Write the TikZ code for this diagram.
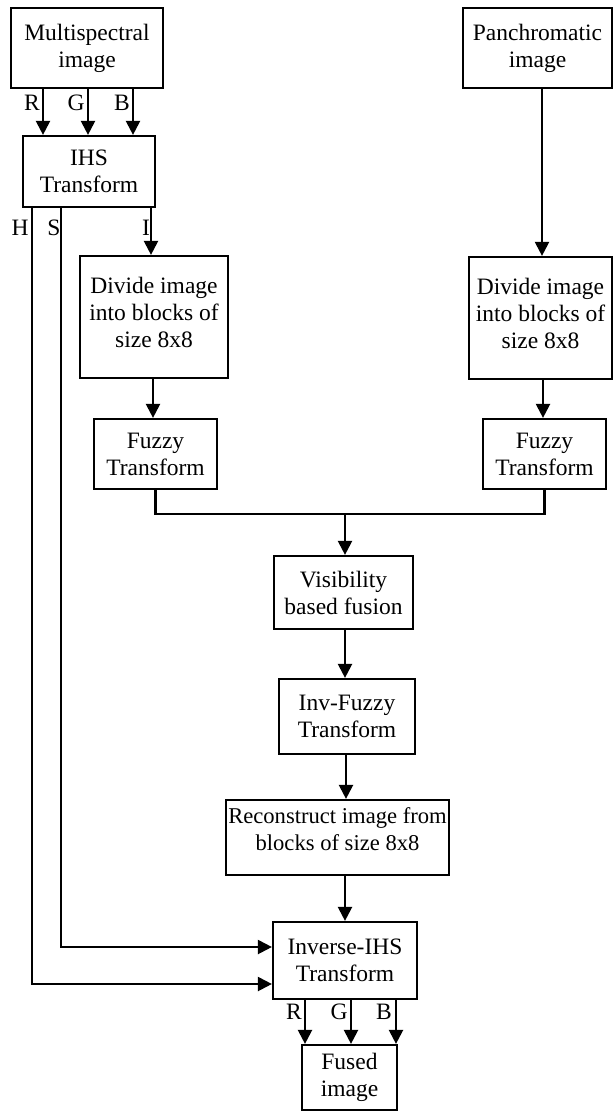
\documentclass[tikz,border=0pt]{standalone}
\usepackage{fontspec}
\setmainfont{Liberation Serif}
\usetikzlibrary{arrows.meta}
\begin{document}
\begin{tikzpicture}[x=1pt,y=-1pt,
  every node/.style={font=\fontsize{23.5}{27}\selectfont},
  blk/.style={draw,line width=2.2pt,inner sep=0pt,align=center},
  lbl/.style={inner sep=0pt},
  con/.style={line width=2.2pt},
  arr/.style={con,-{Triangle[width=14pt,length=14pt]}}]
\useasboundingbox (0,0) rectangle (613,1116);
% boxes
\node[blk,minimum width=152pt,minimum height=80pt] (ms) at (87,48) {Multispectral\\image};
\node[blk,minimum width=149pt,minimum height=80pt] (pan) at (537.5,48) {Panchromatic\\image};
\node[blk,minimum width=132pt,minimum height=71pt] (ihs) at (89,171.5) {IHS\\Transform};
\node[blk,minimum width=148pt,minimum height=122pt] (divL) at (154,317) {Divide image\\into blocks of\\size 8x8\\[-17pt]};
\node[blk,minimum width=143pt,minimum height=122pt] (divR) at (540.5,318) {Divide image\\into blocks of\\size 8x8\\[-17pt]};
\node[blk,minimum width=123pt,minimum height=70pt] (fzL) at (155.5,454) {Fuzzy\\Transform};
\node[blk,minimum width=123pt,minimum height=70pt] (fzR) at (544.5,454) {Fuzzy\\Transform};
\node[blk,minimum width=139pt,minimum height=73pt] (vis) at (343.5,592.5) {Visibility\\based fusion};
\node[blk,minimum width=136pt,minimum height=75pt] (inv) at (347,716.5) {Inv-Fuzzy\\Transform};
\node[blk,minimum width=223pt,minimum height=75pt,font=\fontsize{22.6}{27}\selectfont] (rec) at (337.5,837.5) {Reconstruct image from\\blocks of size 8x8\\[-11pt]};
\node[blk,minimum width=144pt,minimum height=77pt] (iihs) at (345,960.5) {Inverse-IHS\\Transform};
\node[blk,minimum width=95pt,minimum height=65pt] (fused) at (349.5,1077.5) {Fused\\image};
% labels
\node[lbl] (lR) at (32,103) {R};
\node[lbl] (lG) at (76,103) {G};
\node[lbl] (lB) at (122,103) {B};
\node[lbl] (lH) at (20,228) {H};
\node[lbl] (lS) at (54,228) {S};
\node[lbl] (lI) at (146,228) {I};
\node[lbl] (oR) at (294,1012) {R};
\node[lbl] (oG) at (339,1012) {G};
\node[lbl] (oB) at (384,1012) {B};
% connectors
\draw[arr] ([xshift=-44pt]ms.south) -- ([xshift=-46pt]ihs.north);
\draw[arr] ([xshift=1pt]ms.south) -- ([xshift=-1pt]ihs.north);
\draw[arr] ([xshift=46pt]ms.south) -- ([xshift=44pt]ihs.north);
\path ([xshift=62pt]ihs.south) coordinate (iout);
\draw[arr] (iout) -- (iout |- divL.north);
\draw[arr] ([xshift=-57pt]ihs.south) |- ([yshift=-23.5pt]iihs.west);
\draw[arr] ([xshift=-28pt]ihs.south) |- ([yshift=13.5pt]iihs.west);
\path ([xshift=4.5pt]pan.south) coordinate (pout);
\draw[arr] (pout) -- (pout |- divR.north);
\draw[arr] (divL.south -| 153,0) -- (fzL.north -| 153,0);
\draw[arr] (divR.south -| 543,0) -- (fzR.north -| 543,0);
\coordinate (jn) at (345,514);
\draw[con] (fzL.south) |- (jn) -| (fzR.south);
\draw[arr] (jn) -- (jn |- vis.north);
\draw[arr] (vis.south -| 345,0) -- (inv.north -| 345,0);
\draw[arr] (inv.south -| 346,0) -- (rec.north -| 346,0);
\draw[arr] (rec.south -| iihs.north) -- (iihs.north);
\draw[arr] ([xshift=-40pt]iihs.south) -- ([xshift=-40pt]iihs.south |- fused.north);
\draw[arr] ([xshift=6pt]iihs.south) -- ([xshift=6pt]iihs.south |- fused.north);
\draw[arr] ([xshift=51pt]iihs.south) -- ([xshift=51pt]iihs.south |- fused.north);
\end{tikzpicture}
\end{document}
